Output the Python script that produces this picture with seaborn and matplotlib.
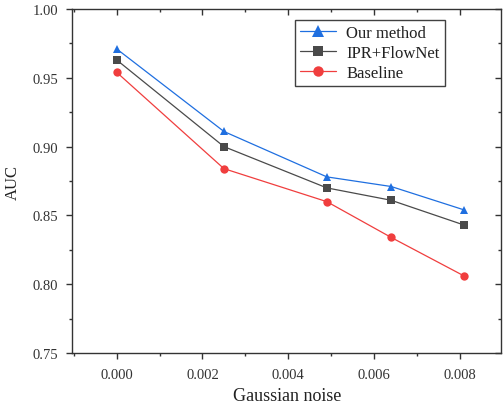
import matplotlib
matplotlib.use("Agg")
import matplotlib.pyplot as plt
import seaborn as sns
import pandas as pd
from matplotlib.ticker import MultipleLocator, FormatStrFormatter

noise = [0.0, 0.0025, 0.0049, 0.0064, 0.0081]
our_method = [0.971, 0.911, 0.878, 0.871, 0.854]
ipr_flownet = [0.963, 0.900, 0.870, 0.861, 0.843]
baseline = [0.954, 0.884, 0.860, 0.834, 0.806]
series_names = ["Our method", "IPR+FlowNet", "Baseline"]

sns.set_theme(style="white")
plt.rcParams['font.family'] = ['Liberation Serif', 'DejaVu Serif']

df = pd.DataFrame({
    "noise": noise * 3,
    "AUC": our_method + ipr_flownet + baseline,
    "method": [series_names[0]] * 5 + [series_names[1]] * 5 + [series_names[2]] * 5,
})

palette = {"Our method": "#1F6FE0", "IPR+FlowNet": "#4A4A4A", "Baseline": "#F03E3E"}
markers = {"Our method": "^", "IPR+FlowNet": "s", "Baseline": "o"}

fig = plt.figure(figsize=(5.03, 4.06), dpi=100)
ax = fig.add_axes([0.1441, 0.128, 0.996 - 0.1441, 0.9754 - 0.128])

sns.lineplot(data=df, x="noise", y="AUC", hue="method", style="method",
             palette=palette, markers=markers, dashes=False, ax=ax,
             linewidth=0.9, markeredgewidth=0, legend="full")

sizes = {"Our method": 9, "IPR+FlowNet": 6.5, "Baseline": 7.5}
for line in ax.lines:
    lab = line.get_label()
    if lab in sizes:
        line.set_markersize(sizes[lab])

ax.set_xlim(-0.00103, 0.00896)
ax.set_ylim(0.75, 1.00)
ax.xaxis.set_major_locator(MultipleLocator(0.002))
ax.xaxis.set_minor_locator(MultipleLocator(0.001))
ax.yaxis.set_major_locator(MultipleLocator(0.05))
ax.yaxis.set_minor_locator(MultipleLocator(0.025))
ax.xaxis.set_major_formatter(FormatStrFormatter('%.3f'))
ax.yaxis.set_major_formatter(FormatStrFormatter('%.2f'))

spine_color = "#333333"
for s in ax.spines.values():
    s.set_visible(True)
    s.set_color(spine_color)
    s.set_linewidth(1.0)

ax.tick_params(axis='both', which='major', direction='out', length=4.5, width=1.0,
               color=spine_color, labelsize=10.5, labelcolor="#333333", pad=6,
               bottom=True, left=True, top=False, right=False)
ax.tick_params(axis='both', which='minor', direction='out', length=2.5, width=1.0,
               color=spine_color, bottom=True, left=True, top=False, right=False)

secx = ax.secondary_xaxis('top')
secx.xaxis.set_major_locator(MultipleLocator(0.002))
secx.xaxis.set_minor_locator(MultipleLocator(0.001))
secx.tick_params(which='major', direction='in', length=4.5, width=1.0, color=spine_color, labeltop=False)
secx.tick_params(which='minor', direction='in', length=2.5, width=1.0, color=spine_color)
secx.spines['top'].set_visible(False)
secy = ax.secondary_yaxis('right')
secy.yaxis.set_major_locator(MultipleLocator(0.05))
secy.yaxis.set_minor_locator(MultipleLocator(0.025))
secy.tick_params(which='major', direction='in', length=4.5, width=1.0, color=spine_color, labelright=False)
secy.tick_params(which='minor', direction='in', length=2.5, width=1.0, color=spine_color)
secy.spines['right'].set_visible(False)

ax.set_xlabel("Gaussian noise", fontsize=13, color="#222222", labelpad=4.5)
ax.set_ylabel("AUC", fontsize=12, color="#222222", labelpad=8)

handles, labels = ax.get_legend_handles_labels()
for h, l in zip(handles, labels):
    if l in sizes:
        h.set_markersize(sizes[l])
leg = ax.legend(handles, labels, loc="upper right", bbox_to_anchor=(0.869, 0.968),
                borderaxespad=0, fontsize=12, frameon=True, fancybox=False,
                handlelength=2.2, handletextpad=0.6, borderpad=0.3, labelspacing=0.25)
leg.get_frame().set_edgecolor("#111111")
leg.get_frame().set_linewidth(1.0)
for t in leg.get_texts():
    t.set_color("#222222")

fig.savefig("out.png", dpi=100)
